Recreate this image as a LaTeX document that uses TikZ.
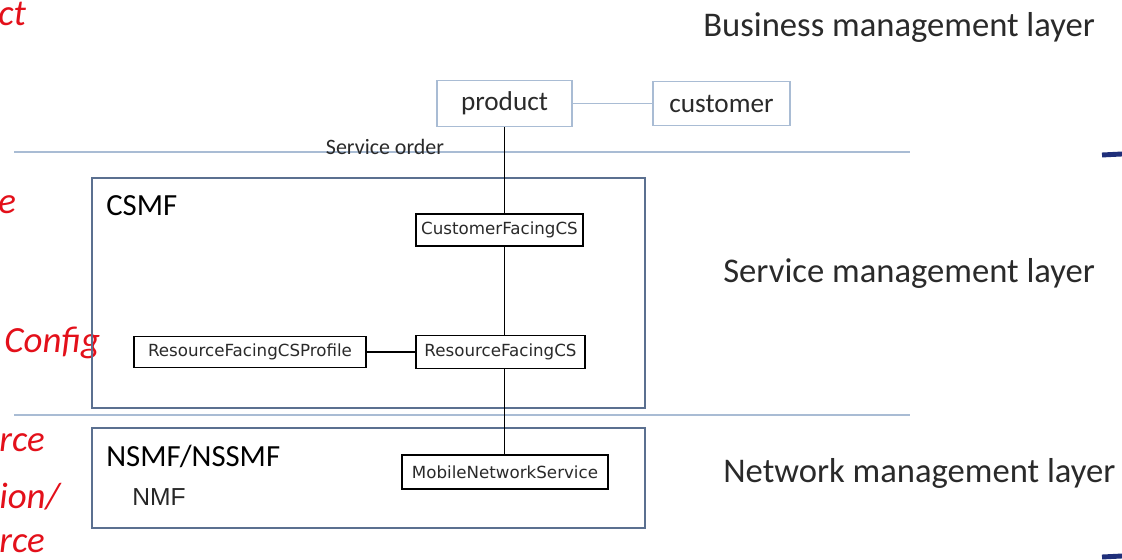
\documentclass[tikz,border=0pt]{standalone}
\usepackage{fontspec}
\setmainfont{Carlito}
\newfontfamily\boxfont{DejaVu Sans}
\newfontfamily\arialfont{Liberation Sans}

\definecolor{layerline}{HTML}{A9BCD4}
\definecolor{layerframe}{HTML}{5B7090}
\definecolor{notered}{HTML}{E3101A}
\definecolor{marknavy}{HTML}{1F2F7A}
\definecolor{labelgray}{HTML}{2A2A2A}

\tikzset{
  bizbox/.style={draw=layerline, line width=0.8pt, fill=white, inner sep=0pt,
    font=\fontsize{15.5}{18}\selectfont, text=labelgray},
  classbox/.style={draw=black, line width=0.7pt, fill=white, inner sep=0pt,
    font=\boxfont\fontsize{9.5}{11}\selectfont, text=labelgray},
  layerlabel/.style={anchor=west, inner sep=0pt, font=\fontsize{19.7}{22}\selectfont, text=labelgray},
  framelabel/.style={anchor=west, inner sep=0pt, font=\fontsize{17.5}{20}\selectfont, text=black},
  rednote/.style={anchor=west, inner sep=0pt, text=notered, font=\itshape\fontsize{21}{24}\selectfont}
}

\begin{document}
\begin{tikzpicture}[x=0.02cm, y=-0.02cm]
      \useasboundingbox (0,0) rectangle (1122,560);

      % cut-off notes on the left
      \node[rednote] (n1) at (-2,14) {ct};
      \node[rednote] (n2) at (-2,205) {e};
      \node[rednote] (n3) at (4,343) {Config};
      \node[rednote] (n4) at (-1,443) {rce};
      \node[rednote] (n5) at (-1,497) {ion/};
      \node[rednote] (n6) at (-1,544) {rce};

      % marks at the right border
      \draw[marknavy, line width=2.8pt] (1102,155) -- (1122,154);
      \draw[marknavy, line width=2.8pt] (1102,557) -- (1122,556);

      % layers
      \draw[layerline, line width=1pt] (14,152) -- (910,152);
      \draw[layerline, line width=1pt] (14,415) -- (910,415);
      \node[layerlabel] (biz) at (703,27) {Business management layer};
      \node[layerlabel] (svc) at (723,273) {Service management layer};
      \node[layerlabel] (net) at (723,473) {Network management layer};
      \node[inner sep=0pt, font=\fontsize{12.5}{14}\selectfont, text=labelgray] (order) at (385,147) {Service order};

      \draw[layerframe, line width=1.2pt] (92,178) rectangle (645,408);
      \draw[layerframe, line width=1.2pt] (92,428) rectangle (645,528);
      \node[framelabel] (csmf) at (106,206) {CSMF};
      \node[framelabel] (nsmf) at (106,456) {NSMF/NSSMF};
      \node[anchor=west, inner sep=0pt, font=\arialfont\fontsize{14}{16}\selectfont, text=black!85] (nmf) at (132,497) {NMF};

      % boxes
      \node[bizbox, minimum width=2.7cm, minimum height=0.92cm] (prod) at (504.5,103.5) {product};
      \node[bizbox, minimum width=2.74cm, minimum height=0.88cm] (cust) at (721.5,103.5) {customer};
      \node[classbox, minimum width=3.34cm, minimum height=0.64cm] (cfcs) at (499.5,230) {CustomerFacingCS};
      \node[classbox, minimum width=4.64cm, minimum height=0.62cm] (prof) at (250,352) {ResourceFacingCSProfile};
      \node[classbox, minimum width=3.38cm, minimum height=0.66cm] (rfcs) at (500.5,352) {ResourceFacingCS};
      \node[classbox, minimum width=4.12cm, minimum height=0.68cm] (mns) at (505,472) {MobileNetworkService};

      % links
      \draw[layerline, line width=0.8pt] (prod) -- (cust);
      \draw[line width=0.7pt] (prod.south) -- (prod.south |- cfcs.north);
      \draw[line width=0.7pt] (prod.south |- cfcs.south) -- (prod.south |- rfcs.north);
      \draw[line width=0.7pt] (prod.south |- rfcs.south) -- (prod.south |- mns.north);
      \draw[line width=0.7pt] (prof) -- (rfcs);
\end{tikzpicture}
\end{document}
